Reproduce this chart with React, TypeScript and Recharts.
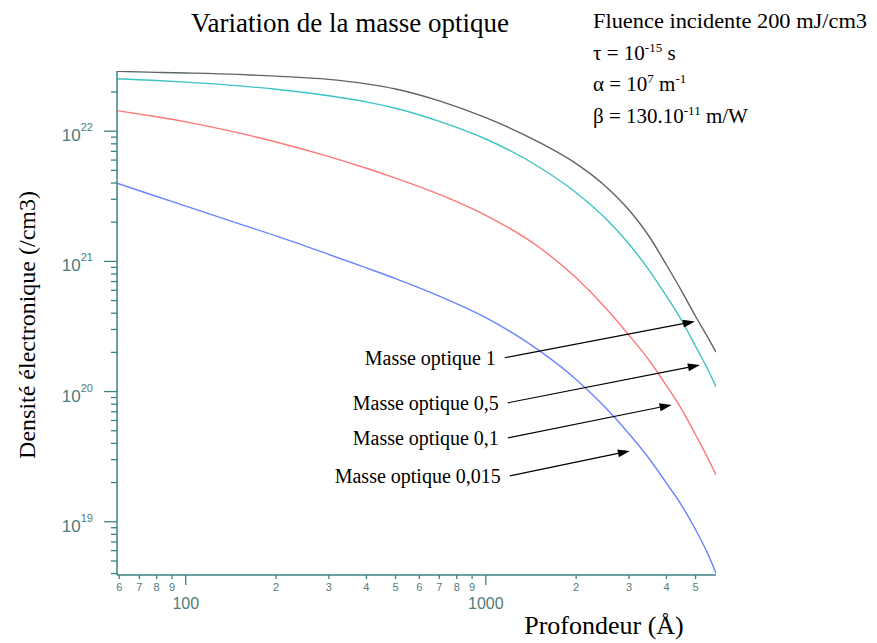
import React from 'react';
import { LineChart, Line, XAxis, YAxis, ReferenceLine } from 'recharts';

// Profondeur (Å)
const depth = [59, 80, 100, 150, 200, 300, 400, 500, 700, 1000, 1500, 2000, 2500, 3000, 3500, 4000, 4500, 5000, 5500, 5850];

// Densité électronique (/cm3), one list per masse optique
const masse1 = [2.88e22, 2.83e22, 2.8e22, 2.73e22, 2.65e22, 2.5e22, 2.31e22, 2.11e22, 1.71e22, 1.27e22, 8.26e21, 5.64e21, 3.8e21, 2.48e21, 1.56e21, 9.38e20, 5.89e20, 3.79e20, 2.6e20, 2.01e20];
const masse05 = [2.53e22, 2.45e22, 2.38e22, 2.23e22, 2.1e22, 1.87e22, 1.68e22, 1.5e22, 1.19e22, 8.71e21, 5.33e21, 3.37e21, 2.15e21, 1.36e21, 8.57e20, 5.4e20, 3.5e20, 2.23e20, 1.47e20, 1.09e20];
const masse01 = [1.44e22, 1.29e22, 1.18e22, 9.7e21, 8.26e21, 6.38e21, 5.19e21, 4.36e21, 3.27e21, 2.26e21, 1.29e21, 7.48e20, 4.43e20, 2.71e20, 1.74e20, 1.11e20, 7.28e19, 4.66e19, 3.07e19, 2.29e19];
const masse0015 = [3.98e21, 3.15e21, 2.66e21, 1.95e21, 1.57e21, 1.13e21, 8.91e20, 7.38e20, 5.41e20, 3.7e20, 2.08e20, 1.24e20, 7.57e19, 4.74e19, 3.06e19, 1.98e19, 1.33e19, 8.71e18, 5.64e18, 4.03e18];

// tick positions
const xTicks = [60, 70, 80, 90, 100, 200, 300, 400, 500, 600, 700, 800, 900, 1000, 2000, 3000, 4000, 5000];
const yDomain: [number, number] = [3.9e18, 2.9e22];
const yTicks: number[] = [];
[18, 19, 20, 21, 22].forEach(e => {
  for (let m = 1; m <= 9; m++) {
    const v = m * Math.pow(10, e);
    if (v >= yDomain[0] && v <= yDomain[1]) yTicks.push(v);
  }
});

// annotations (labels + arrows, in data coordinates)
const arrowLabels = ['Masse optique 1', 'Masse optique 0,5', 'Masse optique 0,1', 'Masse optique 0,015'];
const arrowFrom = [
  { x: 1157, y: 1.82e20 },
  { x: 1184, y: 8.2e19 },
  { x: 1184, y: 4.4e19 },
  { x: 1202, y: 2.25e19 },
];
const arrowTo = [
  { x: 4977, y: 3.46e20 },
  { x: 5170, y: 1.6e20 },
  { x: 4160, y: 7.9e19 },
  { x: 3020, y: 3.5e19 },
];

const data = depth.map((d, i) => ({
  depth: d,
  m1: masse1[i],
  m05: masse05[i],
  m01: masse01[i],
  m0015: masse0015[i],
}));

const AXIS = '#3d8282';
const TICK = '#4f7c7c';
const SERIF = '"Liberation Serif", "Times New Roman", serif';
const SANS = '"Liberation Sans", Arial, sans-serif';

const XTick = (props: any) => {
  const { x, y, payload } = props;
  const v = payload.value;
  const major = v === 100 || v === 1000;
  return (
    <g>
      <line x1={x} x2={x} y1={y} y2={y + (major ? 10 : 4)} stroke={AXIS} strokeWidth={1.3} />
      {major ? (
        <text x={x} y={y + 34} textAnchor="middle" fontSize={16} fill={TICK} style={{ fontFamily: SANS }}>{v}</text>
      ) : (
        <text x={x} y={y + 16} textAnchor="middle" fontSize={11} fill={TICK} style={{ fontFamily: SANS }}>{String(v).charAt(0)}</text>
      )}
    </g>
  );
};

const YTick = (props: any) => {
  const { x, y, payload } = props;
  const v = payload.value;
  const exp = Math.round(Math.log10(v));
  const major = Math.abs(Math.log10(v) - exp) < 1e-6;
  return (
    <g>
      <line x1={x - (major ? 13 : 6)} x2={x} y1={y} y2={y} stroke={AXIS} strokeWidth={1.3} />
      {major && (
        <text x={x - 24} y={y + 10} textAnchor="end" fontSize={17} fill={TICK} style={{ fontFamily: SANS }}>
          10<tspan dy={-10} fontSize={11}>{exp}</tspan>
        </text>
      )}
    </g>
  );
};

const makeArrow = (label: string) => (p: any) => {
  const { x1, y1, x2, y2 } = p;
  const a = Math.atan2(y2 - y1, x2 - x1);
  const len = 12;
  const w = 4;
  const bx = x2 - len * Math.cos(a);
  const by = y2 - len * Math.sin(a);
  const pts = [
    `${x2},${y2}`,
    `${bx - w * Math.sin(a)},${by + w * Math.cos(a)}`,
    `${bx + w * Math.sin(a)},${by - w * Math.cos(a)}`,
  ].join(' ');
  return (
    <g>
      <line x1={x1} y1={y1} x2={bx} y2={by} stroke="#000" strokeWidth={1.2} />
      <polygon points={pts} fill="#000" />
      <text x={x1 - 9} y={y1 + 7} textAnchor="end" fontSize={20} fill="#000" style={{ fontFamily: SERIF }}>{label}</text>
    </g>
  );
};

export default function App() {
  const serif = { fontFamily: SERIF };
  return (
    <div style={{ position: 'absolute', left: 0, top: 0, width: 877, height: 643, background: '#fff' }}>
      <LineChart width={877} height={643} data={data} margin={{ top: 71, right: 161, bottom: 38, left: 57 }}>
        <XAxis
          dataKey="depth"
          type="number"
          scale="log"
          domain={[59, 5850]}
          ticks={xTicks}
          interval={0}
          tickSize={0}
          tickMargin={0}
          tickLine={false}
          tick={<XTick />}
          height={30}
          axisLine={{ stroke: AXIS, strokeWidth: 1.5 }}
          allowDataOverflow
        />
        <YAxis
          type="number"
          scale="log"
          domain={yDomain}
          ticks={yTicks}
          interval={0}
          tickSize={0}
          tickMargin={0}
          tickLine={false}
          tick={<YTick />}
          width={60}
          axisLine={{ stroke: AXIS, strokeWidth: 1.5 }}
          allowDataOverflow
        />
        <Line type="monotone" dataKey="m1" stroke="#5c6666" strokeWidth={1.4} dot={false} isAnimationActive={false} />
        <Line type="monotone" dataKey="m05" stroke="#3cc3c3" strokeWidth={1.4} dot={false} isAnimationActive={false} />
        <Line type="monotone" dataKey="m01" stroke="#ff7878" strokeWidth={1.4} dot={false} isAnimationActive={false} />
        <Line type="monotone" dataKey="m0015" stroke="#6a84ff" strokeWidth={1.4} dot={false} isAnimationActive={false} />
        {arrowLabels.map((lab, i) => (
          <ReferenceLine
            key={lab}
            segment={[arrowFrom[i], arrowTo[i]]}
            ifOverflow="visible"
            shape={makeArrow(lab)}
          />
        ))}
      </LineChart>
      <svg width={877} height={643} style={{ position: 'absolute', left: 0, top: 0, pointerEvents: 'none' }}>
        <text x={350} y={32} textAnchor="middle" fontSize={27} fill="#000" style={serif}>Variation de la masse optique</text>
        <text x={593} y={28} fontSize={21} fill="#000" style={serif} textLength={274} lengthAdjust="spacingAndGlyphs">Fluence incidente 200 mJ/cm3</text>
        <text x={593} y={60} fontSize={21} fill="#000" style={serif}>τ = 10<tspan dy={-8} fontSize={13}>-15</tspan><tspan dy={8}> s</tspan></text>
        <text x={593} y={91} fontSize={21} fill="#000" style={serif}>α = 10<tspan dy={-8} fontSize={13}>7</tspan><tspan dy={8}> m</tspan><tspan dy={-8} fontSize={13}>-1</tspan></text>
        <text x={593} y={123} fontSize={21} fill="#000" style={serif}>β = 130.10<tspan dy={-8} fontSize={13}>-11</tspan><tspan dy={8}> m/W</tspan></text>
        <text x={604} y={634} textAnchor="middle" fontSize={26} fill="#000" style={serif}>Profondeur (Å)</text>
        <text transform="translate(35,325) rotate(-90)" textAnchor="middle" fontSize={24} fill="#000" style={serif}>Densité électronique (/cm3)</text>
      </svg>
    </div>
  );
}
